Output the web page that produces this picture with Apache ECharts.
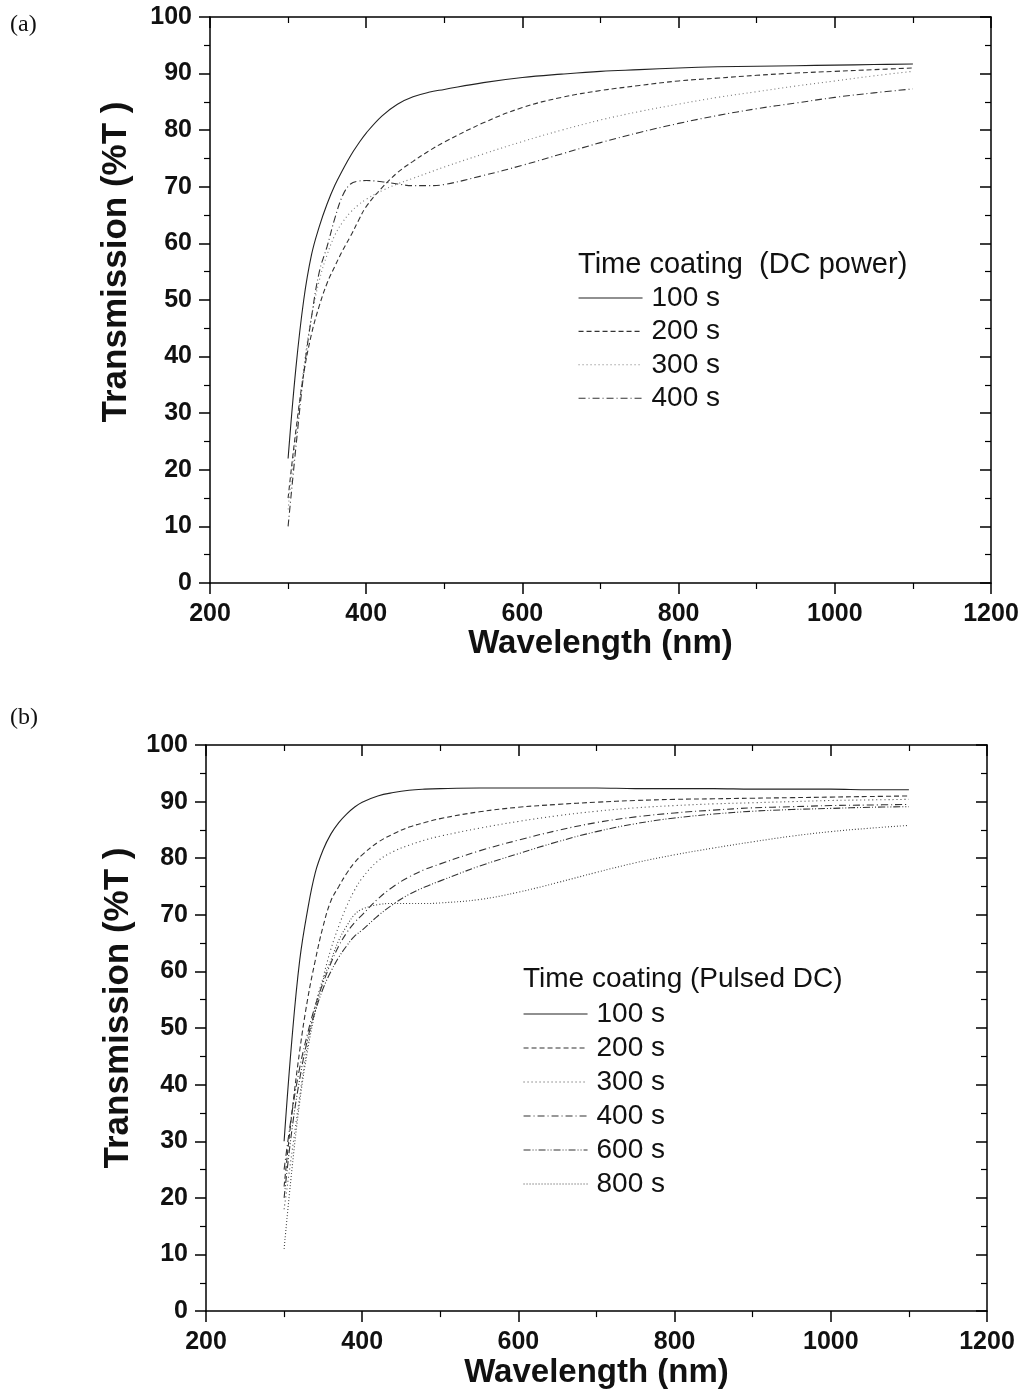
<!DOCTYPE html>
<html>
<head>
<meta charset="utf-8">
<script src="https://cdn.jsdelivr.net/npm/echarts@6/dist/echarts.min.js"></script>
<style>
html,body{margin:0;padding:0;background:#fff;}
#chart{width:1026px;height:1390px;}
</style>
</head>
<body>
<div id="chart"></div>
<script>
// ---- data ----
const wavelengths = [300,310,320,330,340,350,360,370,380,390,400,420,440,460,480,500,550,600,650,700,750,800,850,900,950,1000,1050,1100];
const xTicks = [200,400,600,800,1000,1200];
const yTicks = [0,10,20,30,40,50,60,70,80,90,100];

// (a) DC power
const dcNames = ['100 s','200 s','300 s','400 s'];
const dc100 = [22,38,50,58,63,67,70.3,73,75.5,77.6,79.5,82.5,84.6,85.9,86.7,87.2,88.4,89.3,89.9,90.4,90.7,91.0,91.2,91.3,91.4,91.5,91.6,91.7];
const dc200 = [15,27,37,44,49,53,56,58.8,61.3,64,66.5,69.8,72.5,74.5,76.3,77.9,81.3,84,85.8,87,87.9,88.7,89.2,89.7,90.1,90.4,90.7,91];
const dc300 = [13,26,38,47,53.5,58,61.5,63.8,65.5,66.8,67.8,69.3,70.5,71.5,72.5,73.5,75.8,78,80,81.8,83.3,84.6,85.8,86.8,87.8,88.7,89.6,90.4];
const dc400 = [10,24,37,47,55,59.5,64.5,68.5,70.5,71,71.1,70.9,70.5,70.2,70.2,70.4,72,73.8,75.8,77.8,79.6,81.2,82.6,83.8,84.8,85.8,86.6,87.3];

// (b) Pulsed DC
const pdcNames = ['100 s','200 s','300 s','400 s','600 s','800 s'];
const pdc100 = [30,48,62,70.8,77.5,81.5,84.3,86.3,87.8,89,89.9,91,91.6,92,92.2,92.3,92.4,92.4,92.4,92.4,92.3,92.3,92.3,92.2,92.2,92.2,92.1,92.1];
const pdc200 = [22,35,46,55,62,68,72.5,75,77.3,79.2,80.6,82.8,84.3,85.5,86.3,87,88.2,89,89.5,89.9,90.2,90.4,90.5,90.6,90.7,90.8,90.9,91];
const pdc300 = [18,28,38,47,54,59,64,68,71.5,74.3,76.5,79.5,81.2,82.3,83.2,83.9,85.3,86.5,87.5,88.3,88.9,89.3,89.6,89.8,90,90.2,90.3,90.4];
const pdc400 = [25,35,43,49,54,58,61.5,64.5,66.8,68.6,70,72.8,75,76.7,78,79,81.3,83.2,84.9,86.3,87.3,88,88.5,88.9,89.1,89.3,89.4,89.5];
const pdc600 = [20,32,41,48,53,57,60,62.5,64.5,66.2,67.3,69.8,71.9,73.6,74.9,76,78.6,80.8,82.9,84.7,86.1,87.1,87.8,88.3,88.6,88.8,89,89.1];
const pdc800 = [11,25,37,46,53,58.5,62,65.5,68,70,71,71.8,72,72,72,72.1,72.7,74,75.7,77.5,79.2,80.6,81.8,82.9,83.9,84.7,85.3,85.8];

// ---- styles ----
const FONT = 'Liberation Sans, Arial, sans-serif';
const dashes = {
  solid: 'solid',
  dash: [5,3],
  dot: [1,3],
  dashdot: [7,3,1,3],
  dashdotdot: [7,2,1,2,1,2],
  densedot: [1,2]
};

function pairs(ys){ return wavelengths.map((w,i)=>[w, ys[i]]); }

function mkSeries(prefix, names, arrays, types, colors, xi, yi){
  return names.map((n,i)=>({
    name: prefix + n,
    type: 'line',
    xAxisIndex: xi, yAxisIndex: yi,
    data: pairs(arrays[i]),
    symbol: 'none',
    smooth: 0.4,
    lineStyle: {color: colors[i], width: 1.1, type: types[i]},
    itemStyle: {color: colors[i]},
    emphasis: {disabled: true},
    animation: false
  }));
}

const grids = [
  {left: 210, right: 35, top: 17, height: 566},
  {left: 206, right: 39, top: 745, height: 572}
];

function xAxes(gi){
  const base = {
    type: 'value', gridIndex: gi, min: 200, max: 1200, interval: 200,
    splitLine: {show: false},
    axisLine: {show: true, onZero: false, lineStyle: {color: '#000', width: 1.5}},
    minorTick: {show: true, splitNumber: 2, length: 6, lineStyle: {color: '#000', width: 1.2}},
    minorSplitLine: {show: false}
  };
  return [
    Object.assign({}, base, {
      position: 'bottom',
      axisTick: {show: true, inside: false, length: 11, lineStyle: {color: '#000', width: 1.5}},
      axisLabel: {show: true, margin: 19, color: '#111', fontFamily: FONT, fontWeight: 'bold', fontSize: 25,
        formatter: v => xTicks.includes(v) ? String(v) : ''},
      name: 'Wavelength (nm)', nameLocation: 'middle', nameGap: gi === 0 ? 40 : 37,
      nameTextStyle: {fontFamily: FONT, fontWeight: 'bold', fontSize: 33, color: '#111'}
    }),
    Object.assign({}, base, {
      position: 'top',
      axisTick: {show: true, inside: true, length: 11, lineStyle: {color: '#000', width: 1.5}},
      axisLabel: {show: false}
    })
  ];
}
function yAxes(gi){
  const base = {
    type: 'value', gridIndex: gi, min: 0, max: 100, interval: 10,
    splitLine: {show: false},
    axisLine: {show: true, onZero: false, lineStyle: {color: '#000', width: 1.5}},
    minorTick: {show: true, splitNumber: 2, length: 6, lineStyle: {color: '#000', width: 1.2}},
    minorSplitLine: {show: false}
  };
  return [
    Object.assign({}, base, {
      position: 'left',
      axisTick: {show: true, inside: false, length: 11, lineStyle: {color: '#000', width: 1.5}},
      axisLabel: {show: true, margin: 18, color: '#111', fontFamily: FONT, fontWeight: 'bold', fontSize: 25,
        formatter: v => yTicks.includes(v) ? String(v) : ''}
    }),
    Object.assign({}, base, {
      position: 'right',
      axisTick: {show: true, inside: true, length: 11, lineStyle: {color: '#000', width: 1.5}},
      axisLabel: {show: false}
    })
  ];
}

const dcTypes = [dashes.solid, dashes.dash, dashes.dot, dashes.dashdot];
const dcColors = ['#222', '#333', '#777', '#333'];
const pdcTypes = [dashes.solid, dashes.dash, dashes.dot, dashes.dashdot, dashes.dashdotdot, dashes.densedot];
const pdcColors = ['#222', '#333', '#444', '#333', '#333', '#444'];

const series = [].concat(
  mkSeries('DC ', dcNames, [dc100, dc200, dc300, dc400], dcTypes, dcColors, 0, 0),
  mkSeries('PDC ', pdcNames, [pdc100, pdc200, pdc300, pdc400, pdc600, pdc800], pdcTypes, pdcColors, 2, 2)
);

function legend(prefix, names, left, top, gap){
  return {
    data: names.map(n => prefix + n),
    orient: 'vertical', left: left, top: top,
    padding: 0,
    itemWidth: 64, itemHeight: 14, itemGap: gap,
    selectedMode: false,
    formatter: name => name.replace(/^P?DC /, ''),
    textStyle: {fontFamily: FONT, fontSize: 28, color: '#111', lineHeight: 28, padding: [0, 0, 0, 4]},
    itemStyle: {color: 'rgba(0,0,0,0)', borderWidth: 0, opacity: 0},
    lineStyle: {width: 1.1}
  };
}

const option = {
  animation: false,
  backgroundColor: '#fff',
  grid: grids,
  xAxis: [].concat(xAxes(0), xAxes(1)),
  yAxis: [].concat(yAxes(0), yAxes(1)),
  legend: [
    legend('DC ', dcNames, 578, 284, 5.4),
    legend('PDC ', pdcNames, 523, 1000, 6)
  ],
  series: series,
  graphic: [
    {type: 'text', left: 10, top: 13, style: {text: '(a)', font: '24px "Liberation Serif", "Times New Roman", serif', fill: '#111'}},
    {type: 'text', left: 10, top: 706, style: {text: '(b)', font: '24px "Liberation Serif", "Times New Roman", serif', fill: '#111'}},
    {type: 'text', left: 578, top: 250, style: {text: 'Time coating  (DC power)', font: '29px "Liberation Sans", Arial, sans-serif', fill: '#111'}},
    {type: 'text', left: 523, top: 965, style: {text: 'Time coating (Pulsed DC)', font: '28px "Liberation Sans", Arial, sans-serif', fill: '#111'}},
    {type: 'text', x: 116, y: 262, rotation: Math.PI / 2,
      style: {text: 'Transmission (%T )', font: 'bold 35px "Liberation Sans", Arial, sans-serif', fill: '#111', align: 'center', verticalAlign: 'middle'}},
    {type: 'text', x: 118, y: 1008, rotation: Math.PI / 2,
      style: {text: 'Transmission (%T )', font: 'bold 35px "Liberation Sans", Arial, sans-serif', fill: '#111', align: 'center', verticalAlign: 'middle'}}
  ]
};

const chart = echarts.init(document.getElementById('chart'), null, {renderer: 'canvas'});
chart.setOption(option);
</script>
</body>
</html>
